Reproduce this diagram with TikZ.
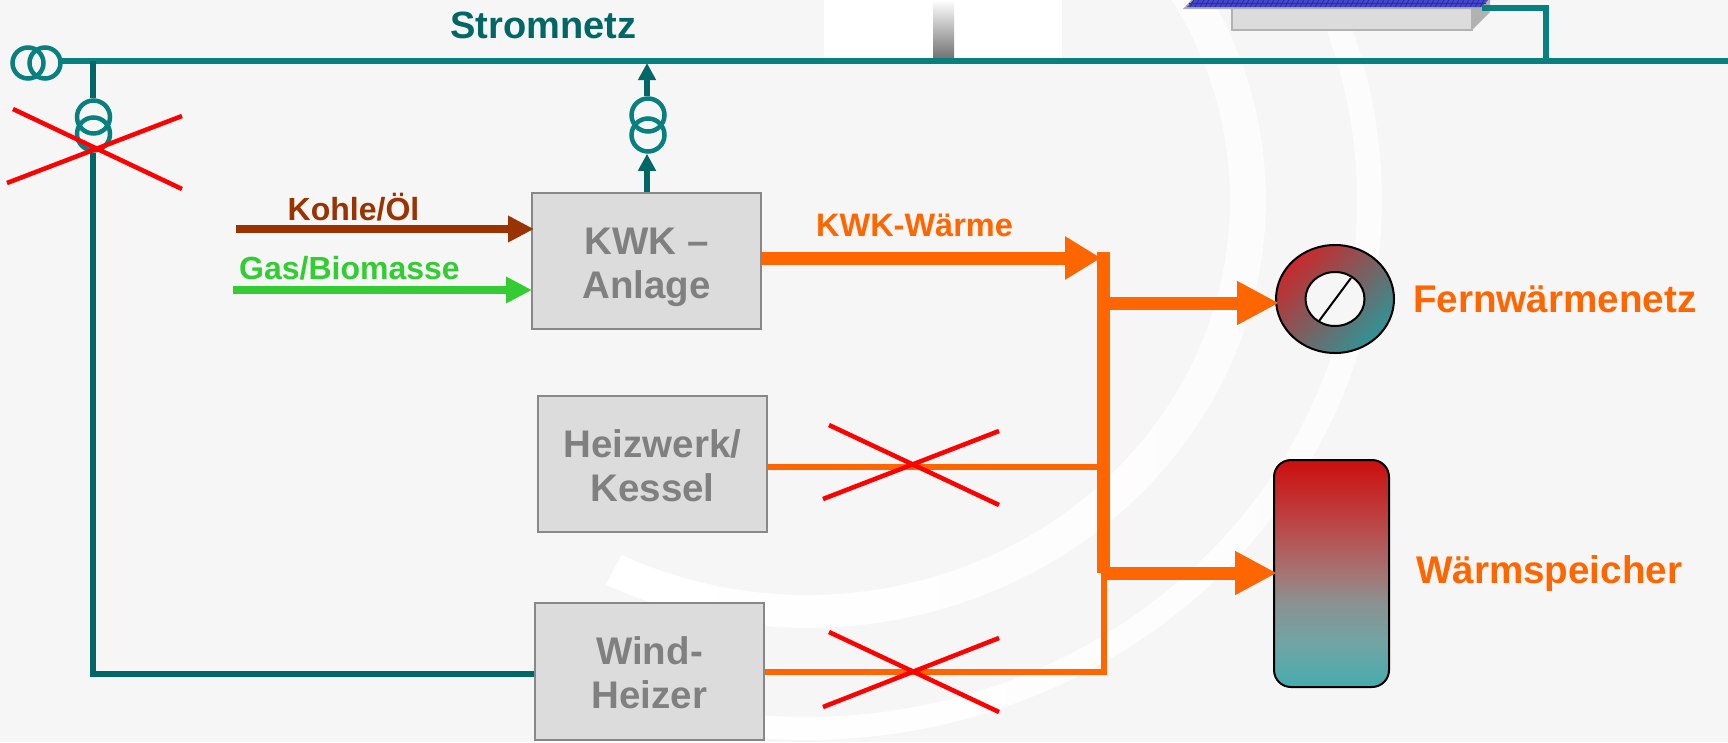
\documentclass[tikz,border=0pt]{standalone}
\usepackage{fontspec}
\setmainfont{Liberation Sans}
\usetikzlibrary{arrows.meta,shapes.geometric}
\definecolor{bgc}{HTML}{F6F6F6}
\definecolor{bandR}{HTML}{FCFCFC}
\definecolor{busc}{HTML}{088080}
\definecolor{darkteal}{HTML}{006666}
\definecolor{orangec}{HTML}{FF6600}
\definecolor{boxfill}{HTML}{DCDCDC}
\definecolor{boxline}{HTML}{888888}
\definecolor{textgrey}{HTML}{808080}
\definecolor{coalc}{HTML}{993300}
\definecolor{gasc}{HTML}{33CC33}
\definecolor{ringred}{HTML}{C82A2C}
\definecolor{ringteal}{HTML}{2F9496}
\definecolor{panelblue}{HTML}{4646CC}
\definecolor{panelgrid}{HTML}{2C2CA0}
\definecolor{tA}{HTML}{CC0E0E}
\definecolor{tB}{HTML}{BD4040}
\definecolor{tC}{HTML}{A57575}
\definecolor{tD}{HTML}{8C9090}
\definecolor{tE}{HTML}{72A4A4}
\definecolor{tF}{HTML}{45ACAF}
\pgfdeclareverticalshading{tankshade}{100bp}{color(0bp)=(tF); color(25bp)=(tF); color(35bp)=(tE); color(44bp)=(tD); color(50bp)=(tC); color(62.5bp)=(tB); color(75bp)=(tA); color(100bp)=(tA)}
\tikzset{
  unitbox/.style={draw=boxline,line width=2pt,fill=boxfill,inner sep=0pt,align=center,text=textgrey,font=\fontsize{38.5}{44}\selectfont\bfseries},
  busline/.style={busc,line width=5.5pt},
  feedline/.style={darkteal,line width=6pt},
  trafo/.style={circle,draw=busc,line width=4.5pt,inner sep=0pt,minimum size=33pt},
  crossout/.style={red,line width=4.5pt},
  heatthin/.style={orangec,line width=5.5pt},
  heatthick/.style={orangec,line width=13pt,shorten >=-4pt,-{Triangle[length=36pt,width=41pt]}},
  fuelarrow/.style={line width=8pt,shorten >=-2pt,-{Triangle[length=26pt,width=25pt]}},
  feedarrow/.style={feedline,-{Triangle[length=17pt,width=17pt]}},
  heattext/.style={text=orangec,font=\fontsize{38.6}{44}\selectfont\bfseries,inner sep=0pt},
  fueltext/.style={font=\fontsize{32}{36}\selectfont\bfseries,inner sep=0pt},
}
\begin{document}
\begin{tikzpicture}[x=1pt,y=-1pt]
\useasboundingbox (0,0) rectangle (1728,742);
\clip (0,0) rectangle (1728,742);
\fill[bgc] (0,0) rectangle (1728,742);
% decorative bands
\shade[left color=white,right color=bandR]
  plot[domain=-40:116,samples=90] ({807+459*cos(\x)},{200+428*sin(\x)}) --
  plot[domain=116:-40,samples=90] ({807+423*cos(\x)},{200+395*sin(\x)}) -- cycle;
\shade[left color=white,right color=bandR]
  plot[domain=-40:108,samples=90] ({807+575*cos(\x)},{200+540*sin(\x)}) --
  plot[domain=108:-40,samples=90] ({807+550*cos(\x)},{200+517*sin(\x)}) -- cycle;
\fill[white] (824,0) rectangle (1062,58);
\shade[top color=white,middle color=black!15,bottom color=black!55] (933,0) rectangle (954,58);
% solar unit
\fill[black!30] (1472,30) -- (1490,12) -- (1490,-2) -- (1472,-2) -- cycle;
\draw[draw=black!30,line width=2pt,fill=boxfill] (1232,8) rectangle (1472,30);
\fill[black!32] (1183,9) -- (1193,-2) -- (1492,-2) -- (1483,9) -- cycle;
\fill[panelblue] (1187,7) -- (1195,-2) -- (1490,-2) -- (1481,7) -- cycle;
\foreach \k in {0,...,58} \draw[panelgrid,line width=.8pt] ({1190+5*\k},7) -- ({1195+5*\k},-2);
\draw[panelgrid,line width=.8pt] (1189,3) -- (1486,3);
% grid
\node[trafo,minimum size=31pt] (gridA) at (28,63) {};
\node[trafo,minimum size=31pt] (gridB) at (45,63) {};
\coordinate (busEnd) at (1728,61);
\coordinate (busStart) at (62,61);
\coordinate (busTap) at (93,61);
\coordinate (pvTap) at (1546,61);
\coordinate (pvOut) at (1482,8);
\draw[busline] (busStart) -- (busEnd);
\draw[busline] (pvOut) -| (pvTap);
\node[inner sep=0pt,anchor=base,text=darkteal,font=\fontsize{38}{44}\selectfont\bfseries] (strom) at (543.5,38) {Stromnetz};
% left transformer
\node[trafo] (leftA) at (93.5,117) {};
\node[trafo] (leftB) at (93.5,134) {};
% boxes
\node[unitbox,minimum width=229pt,minimum height=136pt] (kwk) at (646.5,261) {\rule{0pt}{38.6pt}KWK –\\Anlage};
\node[unitbox,minimum width=229pt,minimum height=136pt] (heiz) at (652.5,464) {\rule{0pt}{30.7pt}Heizwerk/\\Kessel};
\node[unitbox,minimum width=229pt,minimum height=137pt] (wind) at (649.5,671.5) {\rule{0pt}{31pt}Wind-\\Heizer};
\coordinate (windL) at (wind.west |- 0,673.5);
\coordinate (leftBottom) at (93,673.5);
\draw[feedline] (busTap) -- (leftA.north -| busTap);
\draw[feedline] (leftB.south -| busTap) -- (leftBottom) -- (windL);
% upper transformer
\node[trafo] (upA) at (648,115) {};
\node[trafo] (upB) at (648,135) {};
\coordinate (upTip) at (647,63);
\coordinate (kwkT) at (647,192);
\draw[feedarrow] (upA.north -| upTip) -- (upTip);
\draw[feedarrow] (kwkT) -- (upB.south -| kwkT);
% fuels
\coordinate (coalS) at (236,229);
\coordinate (coalE) at (532,229);
\coordinate (gasS) at (233,290);
\coordinate (gasE) at (530,290);
\draw[fuelarrow,coalc] (coalS) -- (coalE);
\draw[fuelarrow,gasc] (gasS) -- (gasE);
\node[fueltext,text=coalc,anchor=base] (kohle) at (353.5,220) {Kohle/Öl};
\node[fueltext,text=gasc,anchor=base] (gas) at (349.5,279) {Gas/Biomasse};
% heat
\coordinate (busTopHeat) at (1103.5,252);
\coordinate (busBotHeat) at (1103.5,573);
\coordinate (kwkOut) at (761,258);
\coordinate (kwkIn) at (1097,258);
\coordinate (b1) at (1110,303);
\coordinate (b2) at (1104,573);
\node[ellipse,draw=black,line width=2pt,minimum width=118pt,minimum height=108pt,inner sep=0pt,left color=ringred,right color=ringteal,shading angle=45] (ring) at (1335,299) {};
\node[ellipse,draw=black,line width=2pt,fill=bgc,minimum width=59pt,minimum height=54pt,inner sep=0pt] (ringIn) at (1335,299) {};
\coordinate (slashA) at (1319,321);
\coordinate (slashB) at (1351,278);
\draw[black,line width=2pt] (slashA) -- (slashB);
\node[rectangle,rounded corners=17pt,draw=black,line width=2pt,shading=tankshade,minimum width=115pt,minimum height=227pt,inner sep=0pt] (tank) at (1331.5,573.5) {};
\draw[heatthin] (heiz.east |- 0,467) -- (1100,467);
\draw[heatthin] (wind.east |- 0,672) -- (1104,672) -- (b2);
\draw[orangec,line width=13pt] (busTopHeat) -- (busBotHeat);
\draw[heatthick] (kwkOut) -- (kwkIn);
\draw[heatthick,-{Triangle[length=42pt,width=41pt]}] (b1) -- (ring.west |- b1);
\draw[heatthick,-{Triangle[length=42pt,width=41pt]}] (b2) -- (tank.west |- b2);
\node[anchor=base,text=orangec,font=\fontsize{32.5}{36}\selectfont\bfseries,inner sep=0pt] (kwkw) at (914.5,236.5) {KWK-Wärme};
\node[heattext,anchor=west] (fern) at (1413,299) {Fernwärmenetz};
\node[heattext,anchor=west] (speich) at (1416,574) {Wärmspeicher};
% crosses
\foreach \a/\b/\c/\d in {13/109/182/189,7/183/182/116,829/425/999/505,823/499/999/431,829/632/999/712,823/707/999/638}
  \draw[crossout] (\a,\b) -- (\c,\d);
\end{tikzpicture}
\end{document}
